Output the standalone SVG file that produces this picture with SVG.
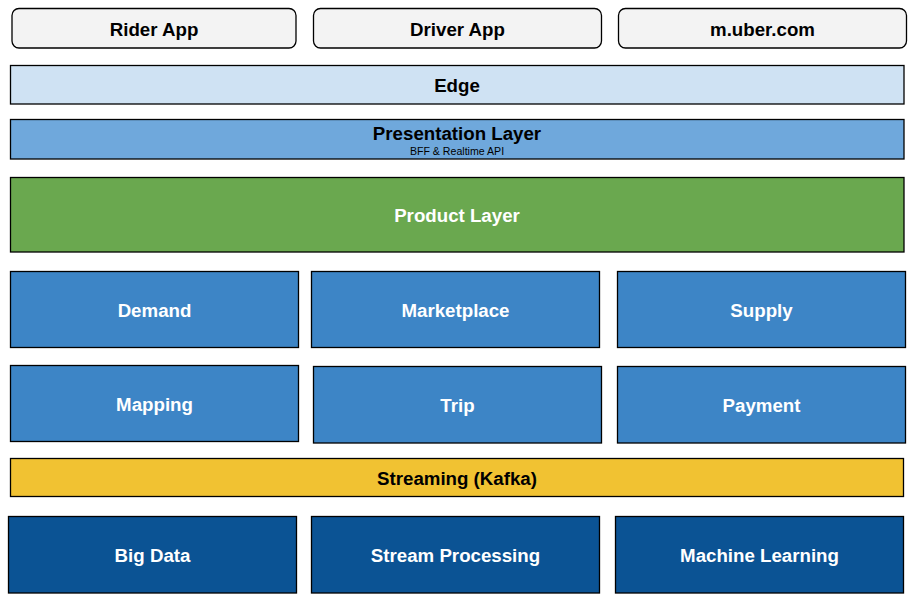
<svg xmlns="http://www.w3.org/2000/svg" width="912" height="612" viewBox="0 0 912 612">
<style>
g rect{stroke:#000;stroke-width:1.3}
text{font-family:"Liberation Sans",Arial,sans-serif;font-weight:bold;font-size:18.7px;text-anchor:middle;dominant-baseline:central}
.app rect{fill:#f3f3f3}
.app text{fill:#000}
.edge{fill:#cfe2f3}
.pres{fill:#6fa8dc}
.prod{fill:#6aa84f}
.svc rect{fill:#3d85c6}
.data rect{fill:#0b5394}
.w{fill:#fff}
.k{fill:#000}
.sub{font-size:10.6px;font-weight:normal}
</style>
<rect width="912" height="612" fill="#fff"/>
<g id="rider-app" class="app"><rect x="12" y="8.5" width="284" height="39.5" rx="7"/><text x="154" y="29">Rider App</text></g>
<g id="driver-app" class="app"><rect x="313.5" y="8.5" width="288" height="39.5" rx="7"/><text x="457.5" y="29">Driver App</text></g>
<g id="m-uber" class="app"><rect x="618.5" y="8.5" width="288" height="39.5" rx="7"/><text x="762.5" y="29">m.uber.com</text></g>
<g id="edge"><rect class="edge" x="10.5" y="65.5" width="893.5" height="38.5"/><text class="k" x="457" y="85">Edge</text></g>
<g id="presentation"><rect class="pres" x="10.5" y="119.5" width="893.5" height="39.5"/><text class="k" x="457" y="133">Presentation Layer</text><text class="k sub" x="457" y="151">BFF &amp; Realtime API</text></g>
<g id="product"><rect class="prod" x="10.5" y="177.5" width="893.5" height="74.5"/><text class="w" x="457" y="215">Product Layer</text></g>
<g id="demand" class="svc"><rect x="10.5" y="271.5" width="288" height="76"/><text class="w" x="154.5" y="310">Demand</text></g>
<g id="marketplace" class="svc"><rect x="311.5" y="271.5" width="288" height="76"/><text class="w" x="455.5" y="310">Marketplace</text></g>
<g id="supply" class="svc"><rect x="617.5" y="271.5" width="288" height="76"/><text class="w" x="761.5" y="310">Supply</text></g>
<g id="mapping" class="svc"><rect x="10.5" y="365.5" width="288" height="76"/><text class="w" x="154.5" y="404">Mapping</text></g>
<g id="trip" class="svc"><rect x="313.5" y="366.5" width="288" height="76.5"/><text class="w" x="457.5" y="405">Trip</text></g>
<g id="payment" class="svc"><rect x="617.5" y="366.5" width="288" height="76.5"/><text class="w" x="761.5" y="405">Payment</text></g>
<g id="streaming"><rect x="10.5" y="458.5" width="893" height="38" fill="#f1c232"/><text class="k" x="457" y="478">Streaming (Kafka)</text></g>
<g id="big-data" class="data"><rect x="8.5" y="516.5" width="288" height="76.5"/><text class="w" x="152.5" y="555">Big Data</text></g>
<g id="stream-processing" class="data"><rect x="311.5" y="516.5" width="288" height="76.5"/><text class="w" x="455.5" y="555">Stream Processing</text></g>
<g id="machine-learning" class="data"><rect x="615.5" y="516.5" width="288" height="76.5"/><text class="w" x="759.5" y="555">Machine Learning</text></g>
<g id="connectors"></g>
</svg>
